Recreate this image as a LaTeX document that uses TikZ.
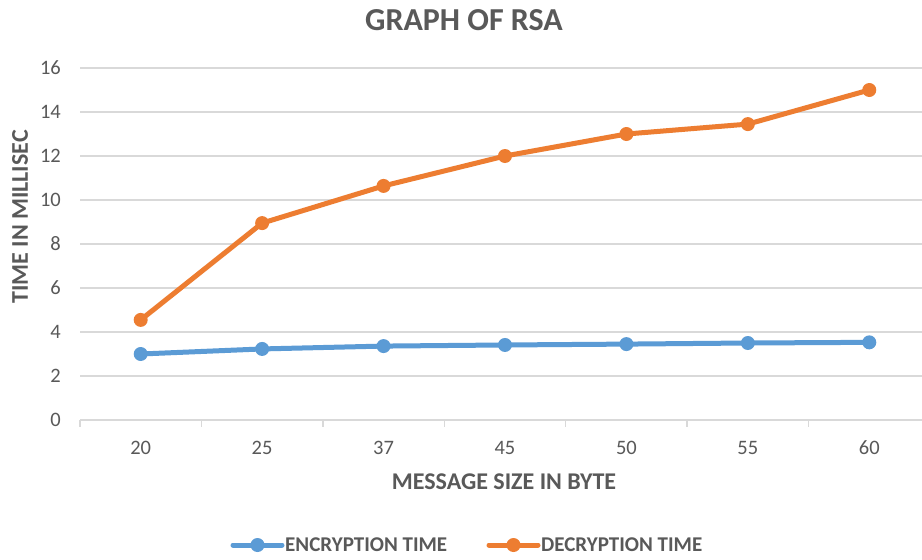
\documentclass[tikz,border=0pt]{standalone}
\usepackage{fontspec}
\setmainfont{Carlito}
\definecolor{encblue}{HTML}{5B9BD5}
\definecolor{decorange}{HTML}{ED7D31}
\definecolor{gridgray}{HTML}{D9D9D9}
\definecolor{txtgray}{HTML}{595959}
\begin{document}
\begin{tikzpicture}[x=1pt,y=-1pt,
  gridline/.style={draw=gridgray,line width=1.5pt},
  ticklbl/.style={text=txtgray,font=\fontsize{20.5}{22}\selectfont,inner sep=0pt},
  axtitle/.style={text=txtgray,font=\bfseries\fontsize{24}{27}\selectfont,inner sep=0pt},
  series/.style={line width=5pt,line join=round,line cap=round},
  marker/.style={circle,inner sep=0pt,minimum size=14pt}]
\useasboundingbox[fill=white] (0,0) rectangle (922,560);
% title
\node[text=txtgray,font=\bfseries\fontsize{32}{36}\selectfont,inner sep=0pt] (title) at (464,20) {GRAPH OF RSA};
% gridlines and y labels
\foreach \v in {2,4,...,16} {
  \draw[gridline] (80,{420-22*\v}) -- (922,{420-22*\v});
}
\foreach \v in {0,2,...,16} {
  \node[ticklbl,anchor=east] at (61,{420-22*\v}) {\v};
}
% x axis
\draw[gridline] (80,420) -- (922,420);
\foreach \i in {0,...,6} {
  \draw[gridline] ({80+121.43*\i},420) -- ({80+121.43*\i},427);
}
\foreach \lbl [count=\i from 0] in {20,25,37,45,50,55,60} {
  \node[ticklbl] (x\i) at ({140.7+121.43*\i},448) {\lbl};
}
\node[axtitle] (xtitle) at (504,482) {MESSAGE SIZE IN BYTE};
\node[axtitle,rotate=90] (ytitle) at (20,217) {TIME IN MILLISEC};
% data
\foreach \v [count=\i from 0] in {3.0,3.23,3.36,3.41,3.45,3.5,3.53} {
  \coordinate (e\i) at ({140.7+121.43*\i},{420-22*\v});
}
\foreach \v [count=\i from 0] in {4.55,8.95,10.64,12.0,13.0,13.45,15.0} {
  \coordinate (d\i) at ({140.7+121.43*\i},{420-22*\v});
}
\draw[series,encblue] (e0) -- (e1) -- (e2) -- (e3) -- (e4) -- (e5) -- (e6);
\draw[series,decorange] (d0) -- (d1) -- (d2) -- (d3) -- (d4) -- (d5) -- (d6);
\foreach \i in {0,...,6} {
  \node[marker,fill=encblue] at (e\i) {};
  \node[marker,fill=decorange] at (d\i) {};
}
% legend
\coordinate (la1) at (233,545);
\coordinate (la2) at (282,545);
\draw[series,encblue] (la1) -- (la2);
\node[marker,fill=encblue] (lm1) at (257.5,545) {};
\node[text=txtgray,font=\bfseries\fontsize{21}{24}\selectfont,inner sep=0pt,anchor=west] (l1) at (285,545) {ENCRYPTION TIME};
\coordinate (lb1) at (489,545);
\coordinate (lb2) at (538,545);
\draw[series,decorange] (lb1) -- (lb2);
\node[marker,fill=decorange] (lm2) at (513.5,545) {};
\node[text=txtgray,font=\bfseries\fontsize{21}{24}\selectfont,inner sep=0pt,anchor=west] (l2) at (541,545) {DECRYPTION TIME};
\end{tikzpicture}
\end{document}
